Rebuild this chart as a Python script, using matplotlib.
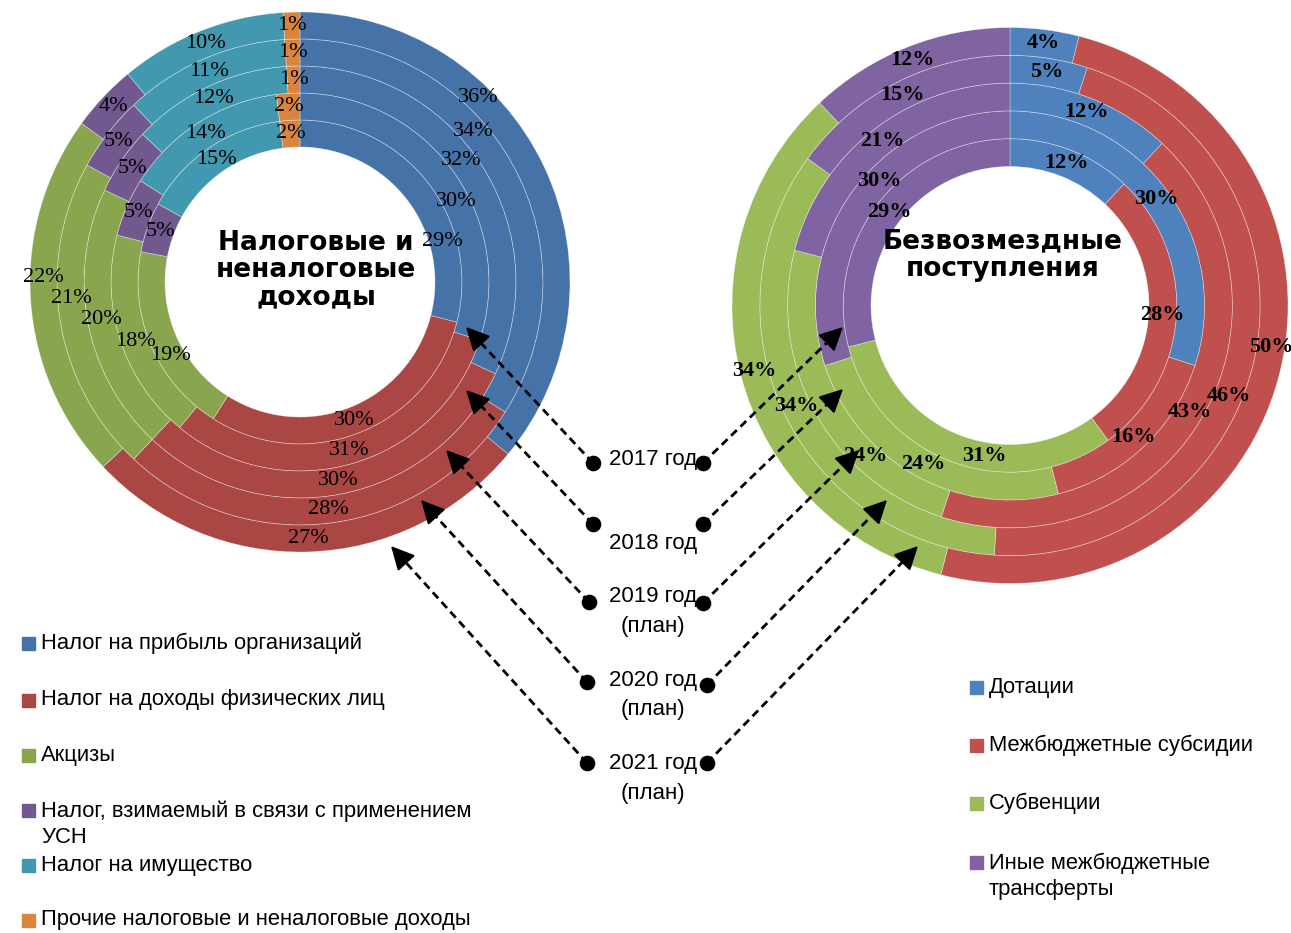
import matplotlib
matplotlib.use("Agg")
import matplotlib.pyplot as plt
import numpy as np

# ---------------- data ----------------
years = ["2017 год", "2018 год", "2019 год\n(план)", "2020 год\n(план)", "2021 год\n(план)"]

left_title = "Налоговые и\nненалоговые\nдоходы"
left_categories = ["Налог на прибыль организаций",
                   "Налог на доходы физических лиц",
                   "Акцизы",
                   "Налог, взимаемый в связи с применением\nУСН",
                   "Налог на имущество",
                   "Прочие налоговые и неналоговые доходы"]
# values per category, years 2017..2021 (inner ring -> outer ring)
left_profit = [29, 30, 32, 34, 36]
left_ndfl = [30, 31, 30, 28, 27]
left_excise = [19, 18, 20, 21, 22]
left_usn = [5, 5, 5, 5, 4]
left_property = [15, 14, 12, 11, 10]
left_other = [2, 2, 1, 1, 1]

right_title = "Безвозмездные\nпоступления"
right_categories = ["Дотации", "Межбюджетные субсидии", "Субвенции",
                    "Иные межбюджетные\nтрансферты"]
right_dotations = [12, 30, 12, 5, 4]
right_subsidies = [28, 16, 43, 46, 50]
right_subventions = [31, 24, 24, 34, 34]
right_other = [29, 30, 21, 15, 12]

# ---------------- styles ----------------
left_colors = ["#4572A7", "#AA4643", "#89A54E", "#71588F", "#4198AF", "#DB843D"]
right_colors = ["#4F81BD", "#C0504D", "#9BBB59", "#8064A2"]

W, H = 1291, 933
fig = plt.figure(figsize=(W / 100, H / 100), dpi=100)

SANS = ["Liberation Sans", "DejaVu Sans"]
SERIF = ["Liberation Serif", "DejaVu Serif"]

# label position adjustments (fraction along the segment), keyed (series, ring)
left_label_frac = {(0, 0): 0.71, (0, 1): 0.58, (0, 2): 0.46, (0, 3): 0.40, (0, 4): 0.34,
                   (2, 0): 0.41, (2, 1): 0.47, (2, 3): 0.566, (2, 4): 0.558}
right_label_frac = {(2, 0): 0.41, (2, 2): 0.30, (1, 3): 0.57, (1, 4): 0.47,
                    (3, 1): 0.57}


def donut(cx, cy, R, series, colors, label_frac, bold):
    ax = fig.add_axes([(cx - R) / W, 1 - (cy + R) / H, 2 * R / W, 2 * R / H])
    data = np.array(series, dtype=float)  # (n_cat, n_years)
    n_years = data.shape[1]
    for k in range(n_years):
        vals = data[:, k]
        r_out = 0.6 + 0.1 * k
        ax.pie(vals, radius=r_out, startangle=90, counterclock=False, colors=colors,
               wedgeprops=dict(width=0.1, edgecolor=(1, 1, 1, 0.45), linewidth=0.5))
        fr = vals / vals.sum()
        cum = np.concatenate([[0], np.cumsum(fr)])
        r_mid = r_out - 0.05
        for s in range(len(vals)):
            f = label_frac.get((s, k), 0.5)
            th = 2 * np.pi * (cum[s] + f * fr[s])
            ax.text(r_mid * np.sin(th), r_mid * np.cos(th), f"{int(round(vals[s]))}%",
                    ha="center", va="center", fontsize=16, family=SERIF,
                    fontweight="bold" if bold else "normal", color="black")
    ax.set_xlim(-1, 1)
    ax.set_ylim(-1, 1)
    ax.set_aspect("auto")
    ax.axis("off")
    return ax


donut(300, 282, 270,
      [left_profit, left_ndfl, left_excise, left_usn, left_property, left_other],
      left_colors, left_label_frac, bold=False)
donut(1010, 305.5, 278,
      [right_dotations, right_subsidies, right_subventions, right_other],
      right_colors, right_label_frac, bold=True)

# overlay in pixel coordinates
ov = fig.add_axes([0, 0, 1, 1], facecolor="none")
ov.set_xlim(0, W)
ov.set_ylim(H, 0)
ov.axis("off")

ov.text(316, 270, left_title, ha="center", va="center", fontsize=19,
        fontweight="bold", family="DejaVu Sans", linespacing=1.05)
ov.text(1003, 255, right_title, ha="center", va="center", fontsize=19,
        fontweight="bold", family="DejaVu Sans", linespacing=1.05)

# year labels, dots and dashed arrows
year_text_y = [459, 543, 611.5, 695, 778.5]
left_dots = [(593, 463), (593, 524), (589, 602), (587, 682), (587, 763)]
right_dots = [(703, 463), (703, 524), (703, 603), (707, 685), (707, 763)]
left_tips = [(466, 327), (466, 390), (446, 450), (421, 500), (391, 546)]
right_tips = [(843, 327), (843, 389), (859, 450), (887, 500), (918, 546)]

for i, lab in enumerate(years):
    ov.text(653, year_text_y[i], lab, ha="center", va="center", fontsize=16,
            family=SANS, linespacing=1.55)
    for (dx, dy), (tx, ty) in ((left_dots[i], left_tips[i]), (right_dots[i], right_tips[i])):
        v = np.array([tx - dx, ty - dy], dtype=float)
        L = np.hypot(*v)
        u = v / L
        end = np.array([tx, ty]) - u * 12
        ov.plot([dx, end[0]], [dy, end[1]], color="black", lw=2.0,
                linestyle=(0, (2.9, 1.8)), solid_capstyle="butt")
        start = np.array([tx, ty]) - u * 16
        ov.annotate("", xy=(tx, ty), xytext=tuple(start),
                    arrowprops=dict(arrowstyle="-|>,head_length=0.9,head_width=0.45",
                                    color="black", lw=1.5, shrinkA=0, shrinkB=0,
                                    mutation_scale=16))
        ov.scatter([dx], [dy], s=105, color="black", zorder=5)

# legends
LEG_FS = 15.8
left_leg_y = [643, 700, 755, 810, 865, 920]
for i, lab in enumerate(left_categories):
    ov.add_patch(plt.Rectangle((22, left_leg_y[i] - 6.5), 13, 13, color=left_colors[i]))
    nl = lab.count("\n")
    ov.text(41, left_leg_y[i] + nl * 14, lab, ha="left", va="center", fontsize=LEG_FS,
            family=SANS, linespacing=1.32)
right_leg_y = [687, 745, 803, 862]
for i, lab in enumerate(right_categories):
    ov.add_patch(plt.Rectangle((970, right_leg_y[i] - 6.5), 13, 13, color=right_colors[i]))
    nl = lab.count("\n")
    ov.text(989, right_leg_y[i] + nl * 14, lab, ha="left", va="center",
            fontsize=LEG_FS, family=SANS, linespacing=1.32)

fig.savefig("out.png", dpi=100)
